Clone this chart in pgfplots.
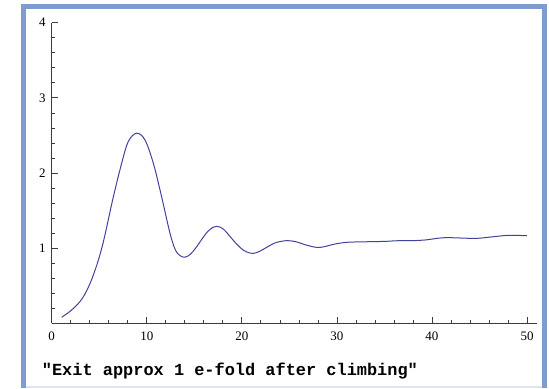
\documentclass[border=0pt]{standalone}
\usepackage{pgfplots}
\pgfplotsset{compat=1.18}
\usepackage{fontspec}
\setmainfont{Liberation Serif}
\newfontfamily\monob{Liberation Mono}
\definecolor{framecol}{RGB}{127,155,207}
\definecolor{curvecol}{rgb}{0.26,0.26,0.62}
\definecolor{axcol}{RGB}{60,60,60}

\begin{document}
\begin{tikzpicture}[x=1bp,y=1bp]
\path (0,0) rectangle (549,388);
% cell frame
\fill[framecol] (21,0) rectangle (26,384);
\fill[framecol] (542,0) rectangle (547,384);
\fill[framecol] (21,379) rectangle (547,384);
\fill[framecol!25] (26,0) rectangle (542,2);

\begin{axis}[
  at={(51.7bp,64.7bp)}, anchor=origin,
  x=9.506bp, y=75.15bp,
  xmin=0, xmax=51, ymin=0, ymax=4,
  axis lines*=left,
  axis line style={axcol, line width=0.8pt},
  tick style={axcol, line width=0.7pt},
  tick align=inside,
  major tick length=6bp, minor tick length=3.5bp,
  xtick={0,10,...,50}, minor xtick={2,4,...,50},
  ytick={1,2,3,4}, minor ytick={0.2,0.4,...,3.81},
  /pgf/number format/assume math mode=true,
  tick label style={font=\fontsize{13}{15}\selectfont, text=black},
  xticklabel style={yshift=-5bp},
  yticklabel style={xshift=-2.5bp},
  clip=false,
]
\addplot[curvecol, line width=1bp, smooth, tension=0.55] table {
x y
1.05 0.08
2.1 0.177
2.98 0.29
3.5 0.39
4.1 0.55
4.73 0.77
5.2 0.97
5.61 1.18
6.48 1.68
7.36 2.13
8.06 2.42
8.94 2.53
9.81 2.44
10.69 2.13
11.57 1.68
12.44 1.20
13.0 0.98
13.5 0.90
14.02 0.88
14.6 0.92
15.2 1.01
15.8 1.12
16.4 1.22
17.0 1.28
17.4 1.29
18.0 1.26
18.6 1.18
19.2 1.09
19.9 1.0
20.5 0.95
21.2 0.93
21.9 0.96
22.6 1.01
23.5 1.07
24.7 1.10
25.7 1.085
26.8 1.04
27.9 1.01
28.7 1.02
29.6 1.05
30.5 1.07
31.4 1.08
33.1 1.085
35.0 1.09
36.6 1.10
38.0 1.10
39.4 1.11
40.5 1.13
41.5 1.14
43.0 1.135
44.7 1.13
46.3 1.15
47.9 1.17
49.0 1.17
50.0 1.165
};
\end{axis}

\node[anchor=base west, inner sep=0, font=\monob\bfseries\fontsize{17}{20}\selectfont] at (41.7,12.5) {"Exit approx 1 e-fold after climbing"};
\end{tikzpicture}
\end{document}
